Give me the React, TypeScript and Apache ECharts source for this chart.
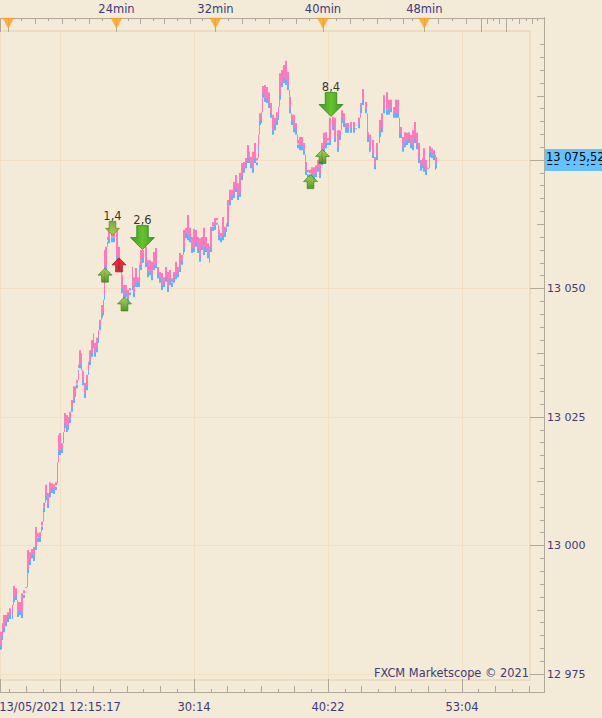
import React, { useEffect, useRef } from "react";
import * as echarts from "echarts";

// one column per sampled bar: bar position, highest ask, lowest bid
const barIndex = [0,2,3,5,7,9,12,13,15,17,19,21,23,25,27,29,31,33,35,37,39,41,43,45,47,49,51,53,55,57,58,59,61,63,64,66,68,69,71,73,75,76,78,79,81,82,84,86,88,89,91,93,94,96,98,99,101,103,104,105,107,108,111,113,116,118,121,123,125,127,129,132,133,135,137,139,140,142,145,147,149,151,153,155,157,159,161,163,165,167,169,171,173,175,177,179,181,183,185,187,189,191,193,195,197,199,201,203,205,207,209,210,212,214,216,218,220,222,224,226,227,229,231,233,235,237,239,241,243,245,247,249,250,252,254,256,258,259,261,262,264,266,268,270,272,274,276,278,279,281,283,285,287,289,291,293,295,297,299,301,303,305,307,309,311,313,315,317,319,321,323,325,327,329,332,334,337,339,341,343,345,347,350,353,355,358,360,362,365,367,369,372,374,376,379,381,383,386,388,390,393,395,397,399,400,402,404,406,408,410,412,414,416,418,420,422,423,425,427,429,431,433,435,436];
const highs = [12983.2,12984.9,12986.5,12986.5,12987.0,12987.8,12988.4,12992.1,12991.7,12989.0,12989.0,12990.7,12991.3,12991.9,12999.1,12998.7,12999.3,12999.7,13003.6,13002.4,13002.6,13004.6,13008.3,13011.8,13010.2,13012.3,13012.1,13011.9,13012.3,13016.2,13021.5,13021.9,13019.9,13022.1,13025.8,13025.4,13025.0,13026.0,13028.3,13031.0,13031.0,13032.2,13035.1,13038.0,13037.4,13033.9,13031.6,13033.2,13035.7,13038.0,13040.0,13041.3,13039.4,13040.4,13041.9,13043.9,13046.8,13047.8,13057.5,13058.1,13060.0,13061.8,13060.8,13060.8,13061.4,13058.1,13052.6,13050.7,13050.7,13049.7,13050.1,13054.2,13052.2,13054.0,13052.2,13054.6,13057.5,13057.5,13058.1,13055.5,13055.5,13055.2,13057.1,13057.9,13054.2,13053.2,13053.0,13052.2,13054.2,13053.2,13053.6,13052.0,13053.2,13055.2,13054.2,13056.9,13056.5,13061.4,13061.8,13064.3,13061.8,13060.0,13061.6,13061.4,13060.0,13059.8,13060.0,13061.8,13060.0,13058.8,13058.1,13062.0,13062.9,13063.7,13063.7,13061.4,13060.8,13063.9,13062.0,13062.7,13067.2,13069.2,13069.2,13070.7,13072.1,13070.5,13072.5,13074.4,13074.6,13075.4,13077.9,13076.6,13075.6,13076.6,13078.3,13075.4,13079.9,13084.1,13084.3,13089.4,13089.6,13089.2,13088.2,13086.1,13083.8,13083.2,13084.3,13085.3,13091.9,13092.5,13093.5,13094.3,13092.1,13087.3,13083.8,13083.8,13082.2,13078.9,13079.5,13079.5,13078.3,13074.6,13073.1,13073.1,13073.6,13073.6,13074.0,13075.0,13074.6,13078.3,13080.3,13080.4,13079.3,13083.2,13083.4,13083.2,13080.8,13080.8,13084.7,13084.1,13082.2,13082.2,13082.4,13082.4,13081.2,13083.2,13086.1,13088.8,13086.3,13080.4,13079.9,13078.9,13075.6,13078.3,13082.8,13084.1,13087.6,13088.2,13086.7,13086.7,13085.3,13086.7,13086.7,13082.8,13081.4,13079.5,13080.4,13080.3,13080.4,13079.9,13080.8,13082.4,13080.3,13078.3,13075.0,13075.4,13077.3,13075.0,13073.4,13077.7,13077.3,13076.9,13076.0,13075.6];
const lows = [12979.7,12981.6,12983.1,12984.3,12985.1,12985.7,12985.7,12989.0,12989.4,12986.1,12986.5,12985.9,12989.8,12990.9,12994.6,12996.2,12997.5,12997.0,12999.1,13000.7,13000.7,13003.0,13006.5,13008.8,13007.3,13009.4,13010.2,13010.0,13010.8,13012.1,13017.6,13017.6,13018.0,13019.9,13022.8,13022.1,13022.5,13023.8,13026.0,13027.7,13028.9,13030.6,13033.7,13034.5,13034.1,13031.2,13028.7,13030.2,13033.2,13035.1,13036.7,13038.4,13036.7,13037.6,13039.4,13041.9,13044.3,13044.8,13047.8,13053.6,13058.5,13058.8,13059.0,13059.0,13055.5,13053.6,13049.1,13047.8,13048.3,13047.2,13048.7,13049.7,13048.3,13050.3,13050.3,13050.3,13053.6,13055.0,13054.2,13052.2,13052.6,13051.6,13053.6,13054.0,13052.0,13051.1,13049.7,13050.3,13051.3,13049.3,13050.7,13050.3,13051.1,13051.8,13052.2,13053.2,13054.6,13057.1,13059.8,13059.4,13059.0,13056.9,13057.1,13058.1,13056.9,13055.2,13057.5,13056.5,13057.1,13055.9,13055.0,13057.1,13061.2,13061.4,13062.4,13059.4,13059.0,13059.4,13060.0,13061.0,13062.0,13066.2,13067.2,13067.6,13068.8,13067.2,13067.8,13071.1,13072.5,13073.4,13074.4,13074.4,13073.4,13072.5,13074.4,13074.0,13076.6,13081.8,13082.2,13087.1,13086.3,13086.1,13085.1,13083.2,13079.9,13080.8,13081.8,13082.8,13086.7,13089.2,13090.0,13089.6,13088.6,13084.1,13081.8,13080.4,13079.9,13077.3,13076.9,13076.9,13076.0,13072.1,13071.7,13071.5,13071.5,13071.1,13071.7,13072.7,13071.5,13074.0,13076.6,13077.3,13077.9,13077.9,13080.8,13078.5,13076.6,13078.9,13082.2,13081.4,13080.3,13080.3,13080.3,13080.3,13080.3,13081.2,13084.1,13085.7,13084.1,13078.5,13076.6,13075.4,13073.2,13075.0,13079.5,13080.4,13084.1,13083.8,13083.8,13084.3,13083.2,13083.2,13083.2,13079.3,13079.3,13076.6,13077.5,13077.9,13078.3,13077.3,13076.9,13078.3,13077.1,13074.4,13072.9,13073.4,13072.7,13072.1,13072.7,13075.6,13075.4,13075.0,13073.1,13073.4];
const spread = 0.9;

// trade arrows: [bar position, price]
const entryUp = [[105, 13052.6], [124.5, 13047.0], [310.5, 13070.8], [322.5, 13075.7]];
const entryRed = [[119, 13054.6]];
const exitSmall = [[112.5, 13061.7, "1,4"]];
const exitBig = [[142.5, 13059.9, "2,6"], [331, 13085.8, "8,4"]];

// axis scales
const yFrameMin = 12971.5, yFrameMax = 13102.63;
const yInnerMin = 12973.83, yInnerMax = 13100.1;
const xFrameMax = 544, xInnerMax = 530;
const priceLabels = [12975, 13000, 13025, 13050];
const priceGrid = [12975, 13000, 13025, 13050, 13075];
const priceMid = [12987.5, 13012.5, 13037.5, 13062.5, 13087.5];
const priceMinor = [12977.5,12980,12982.5,12985,12990,12992.5,12995,12997.5,13002.5,13005,13007.5,13010,13015,13017.5,13020,13022.5,13027.5,13030,13032.5,13035,13040,13042.5,13045,13047.5,13052.5,13055,13057.5,13060,13065,13067.5,13070,13072.5,13077.5,13080,13082.5,13085,13090,13092.5,13095,13097.5];

const timeMajor = [60, 194, 328, 462];
const timeLabels = ["13/05/2021 12:15:17", "30:14", "40:22", "53:04"];
const bottomLong = [26, 93, 127, 160, 227, 261, 294, 361, 395, 428, 495, 529];
const bottomMinor = [9, 43, 76, 110, 143, 177, 211, 244, 278, 311, 345, 378, 411, 445, 478, 512];

const timerTicks = [8.3, 116.5, 215.5, 323, 424.3];
const timerPrice = 13101.6;
const timerLabels = ["", "24min", "32min", "40min", "48min"];
const topMajor = [0, 8.3, 116.5, 215.5, 323, 424.3, 481.7, 506.3];
const topLong = [35.7, 62, 89, 140, 164, 190, 242, 269, 296, 350, 377, 403, 438, 466, 487, 499, 519, 532];
const topMinor = [21.7, 48, 75, 102, 128, 153, 177, 202, 228, 255, 282, 309, 336, 363, 390, 412, 452, 493.7, 512.7, 526, 537.7];

const bg = "#f3ead7";
const gridC = "#f2e0c4";
const borderC = "#efdcc0";
const tickC = "#b0a999";
const textC = "#3d3b79";
const pink = "#ff7abd";
const blue = "#5cb3ff";
const font = "DejaVu Sans";
const fontSize = 11.5;

const upShape = "path://M50 0L100 50L74 50L74 100L26 100L26 50L0 50Z";
const downShape = "path://M26 0L74 0L74 50L100 50L50 100L0 50L26 50Z";

function priceText(v: number) {
  const s = String(v);
  return s.slice(0, 2) + " " + s.slice(2);
}

const stroke = { lineStyle: { color: tickC, width: 1 } };

function frameX(position: string, ticks: number[], length: number, label?: any) {
  return {
    type: "value", gridIndex: 0, position, min: 0, max: xFrameMax,
    axisLine: { show: true, onZero: false, ...stroke },
    axisTick: { show: true, inside: true, length, customValues: ticks, ...stroke },
    axisLabel: label ?? { show: false },
    splitLine: { show: false },
  };
}

function frameY(ticks: number[], length: number, label?: any) {
  return {
    type: "value", gridIndex: 0, position: "right", min: yFrameMin, max: yFrameMax,
    axisLine: { show: true, onZero: false, ...stroke },
    axisTick: { show: true, inside: true, length, customValues: ticks, ...stroke },
    axisLabel: label ?? { show: false },
    splitLine: { show: false },
  };
}

function innerX(position: string, withGrid: boolean) {
  return {
    type: "value", gridIndex: 1, position, min: 0, max: xInnerMax,
    axisLine: { show: true, onZero: false, lineStyle: { color: borderC, width: 2 } },
    axisTick: { show: false, customValues: [0, ...timeMajor] },
    axisLabel: { show: false },
    splitLine: { show: withGrid, lineStyle: { color: gridC, width: 1 } },
  };
}

function bars(params: any, api: any) {
  const x = api.value(0), hi = api.value(1), lo = api.value(2), nx = api.value(3), ph = api.value(4), pl = api.value(5);
  const left = Math.round(api.coord([x, hi])[0]);
  const next = Math.round(api.coord([nx, hi])[0]);
  const w = Math.max(1, Math.min(2, next - left));
  const yHi = api.coord([x, hi])[1];
  const yLo = api.coord([x, lo])[1];
  const yBlueTop = api.coord([x, Math.max(lo, hi - spread)])[1];
  const yPinkBot = api.coord([x, Math.min(hi, lo + spread)])[1];
  const children: any[] = [
    { type: "rect", shape: { x: left, y: yBlueTop, width: w, height: yLo - yBlueTop }, style: { fill: blue } },
    { type: "rect", shape: { x: left, y: yHi, width: w, height: Math.max(1, yPinkBot - yHi) }, style: { fill: pink } },
  ];
  if (lo > ph) {
    const a = api.coord([x, lo])[1], b = api.coord([x, ph])[1];
    children.push({ type: "rect", shape: { x: left, y: a, width: 1, height: b - a }, style: { fill: pink } });
  } else if (hi < pl) {
    const a = api.coord([x, pl])[1], b = api.coord([x, hi])[1];
    children.push({ type: "rect", shape: { x: left, y: a, width: 1, height: b - a }, style: { fill: pink } });
  }
  return { type: "group", children };
}

export default function App() {
  const ref = useRef<HTMLDivElement>(null);
  useEffect(() => {
    const chart = echarts.init(ref.current!, undefined, { renderer: "svg", width: 602, height: 718 });
    const barData = barIndex.map((x, i) => [
      x, highs[i], lows[i],
      i + 1 < barIndex.length ? barIndex[i + 1] : x + 1,
      i > 0 ? highs[i - 1] : highs[i],
      i > 0 ? lows[i - 1] : lows[i],
    ]);
    const arrowLabel = {
      show: true, position: "top", distance: -1,
      formatter: (p: any) => p.value[2],
      color: "#000", fontFamily: font, fontSize,
    };
    const G = echarts.graphic.LinearGradient as any;
    const option: any = {
      animation: false,
      backgroundColor: bg,
      grid: [
        { left: 0, top: 18, width: 544, height: 674, containLabel: false, outerBoundsMode: "none" },
        { left: 0, top: 31, width: 530, height: 649, containLabel: false, outerBoundsMode: "none" },
      ],
      xAxis: [
        frameX("bottom", bottomMinor, 3),
        frameX("bottom", bottomLong, 6),
        frameX("bottom", [0, ...timeMajor], 13, {
          show: true, customValues: timeMajor, margin: 9, color: textC, fontFamily: font, fontSize,
          formatter: (v: number) => timeLabels[timeMajor.indexOf(v)] ?? "",
        }),
        frameX("top", topMinor, 3),
        frameX("top", topLong, 6),
        frameX("top", topMajor, 14, {
          show: true, customValues: timerTicks, margin: 3, color: textC, fontFamily: font, fontSize,
          formatter: (v: number) => timerLabels[timerTicks.indexOf(v)] ?? "",
        }),
        innerX("bottom", true),
        innerX("top", false),
      ],
      yAxis: [
        frameY(priceMinor, 4),
        frameY(priceMid, 7),
        frameY(priceGrid, 14, {
          show: true, customValues: priceLabels, margin: 3, color: textC, fontFamily: font, fontSize: 11,
          padding: [2, 0, 0, 0],
          formatter: (v: number) => priceText(v),
        }),
        {
          type: "value", gridIndex: 1, position: "right", min: yInnerMin, max: yInnerMax,
          axisLine: { show: true, onZero: false, lineStyle: { color: borderC, width: 2 } },
          axisTick: { show: false, customValues: priceGrid },
          axisLabel: { show: false },
          splitLine: { show: true, lineStyle: { color: gridC, width: 1 } },
        },
      ],
      series: [
        {
          type: "custom", name: "price", xAxisIndex: 6, yAxisIndex: 3, silent: true, z: 2, clip: false,
          encode: { x: 0, y: [1, 2] }, data: barData, renderItem: bars,
        },
        {
          type: "scatter", name: "timer", xAxisIndex: 0, yAxisIndex: 0, silent: true, z: 4,
          symbol: "triangle", symbolRotate: 180, symbolSize: [12, 11],
          itemStyle: { color: "#fba21c" }, data: timerTicks.map((x) => [x, timerPrice]),
        },
        {
          type: "scatter", name: "entry", xAxisIndex: 6, yAxisIndex: 3, silent: true, z: 5,
          symbol: upShape, symbolSize: [14, 14], symbolKeepAspect: false,
          itemStyle: {
            color: new G(0, 0, 0, 1, [{ offset: 0, color: "#9ccc36" }, { offset: 1, color: "#2a8405" }]),
            borderColor: "#357a0c", borderWidth: 0.8,
          },
          data: entryUp,
        },
        {
          type: "scatter", name: "entryRed", xAxisIndex: 6, yAxisIndex: 3, silent: true, z: 5,
          symbol: upShape, symbolSize: [14, 14],
          itemStyle: {
            color: new G(0, 0, 0, 1, [{ offset: 0, color: "#f5000f" }, { offset: 1, color: "#b80012" }]),
            borderColor: "#a00012", borderWidth: 0.8,
          },
          data: entryRed,
        },
        {
          type: "scatter", name: "exitSmall", xAxisIndex: 6, yAxisIndex: 3, silent: true, z: 5,
          symbol: downShape, symbolSize: [14, 14],
          itemStyle: {
            color: new G(0, 0, 0, 1, [{ offset: 0, color: "#5f961c" }, { offset: 1, color: "#97cb30" }]),
            borderColor: "#557f18", borderWidth: 0.8,
          },
          label: arrowLabel, data: exitSmall,
        },
        {
          type: "scatter", name: "exitBig", xAxisIndex: 6, yAxisIndex: 3, silent: true, z: 5,
          symbol: downShape, symbolSize: [24, 24],
          itemStyle: {
            color: new G(0, 0, 1, 0, [
              { offset: 0, color: "#0f8500" }, { offset: 0.5, color: "#45b800" }, { offset: 1, color: "#0f8500" },
            ]),
            borderColor: "#127c00", borderWidth: 0.8,
          },
          label: arrowLabel, data: exitBig,
        },
      ],
      graphic: [
        {
          type: "text", z: 6, x: 529, y: 673, silent: true,
          style: { text: "FXCM Marketscope © 2021", fill: textC, font: `11.4px "${font}"`, textAlign: "right", textVerticalAlign: "middle" },
        },
        { type: "rect", z: 6, silent: true, shape: { x: 545, y: 149, width: 57, height: 22 }, style: { fill: "#66c2ff" } },
        {
          type: "text", z: 7, x: 546, y: 161, silent: true,
          style: { text: "13 075,50", fill: "#000", font: `${fontSize}px "${font}"`, textVerticalAlign: "middle" },
        },
        { type: "rect", z: 8, silent: true, shape: { x: 545, y: 149, width: 57, height: 15 }, style: { fill: "#66c2ff" } },
        {
          type: "text", z: 9, x: 546, y: 157, silent: true,
          style: { text: "13 075,52", fill: "#000", font: `${fontSize}px "${font}"`, textVerticalAlign: "middle" },
        },
      ],
    };
    chart.setOption(option);
    return () => chart.dispose();
  }, []);
  return <div ref={ref} style={{ position: "absolute", left: 0, top: 0, width: 602, height: 718 }} />;
}
